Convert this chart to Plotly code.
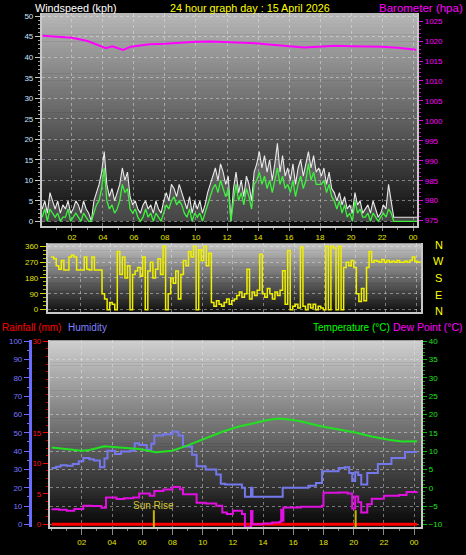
import plotly.graph_objects as go

W, H = 466, 555

# ---------------- data ----------------
# wind (kph), 10-minute samples starting 00:05
wind_minutes = list(range(5, 1456, 10))
wind_gust = [
    3, 5, 2, 7, 5, 3,
    5, 2, 4, 3, 5, 2,
    3, 5, 4, 2, 5, 3,
    2, 0, 5, 7, 9, 12,
    17, 9, 6, 8, 5, 7,
    9, 13, 10, 12, 6, 4,
    5, 3, 2, 4, 5, 3,
    4, 2, 5, 3, 2, 5,
    7, 5, 9, 8, 6, 9,
    7, 5, 3, 6, 2, 5,
    3, 5, 2, 4, 7, 9,
    11, 13, 10, 14, 12, 9,
    11, 0, 8, 12, 7, 10,
    6, 11, 9, 5, 12, 14,
    17, 13, 16, 12, 15, 10,
    14, 19, 12, 16, 11, 13,
    10, 14, 9, 13, 15, 11,
    14, 17, 13, 16, 12, 13,
    11, 13, 9, 12, 8, 7,
    5, 7, 4, 6, 3, 4,
    2, 7, 4, 5, 2, 3,
    4, 2, 5, 3, 1, 2,
    4, 3, 9, 5, 1, 1,
    1, 1, 1, 1, 1, 1,
    1, 1,
]
wind_avg = [
    1, 3, 0, 3, 2, 1,
    2, 0, 1, 1, 3, 0,
    1, 2, 1, 0, 2, 1,
    0, 0, 2, 4, 5, 8,
    13, 5, 3, 4, 2, 3,
    5, 9, 7, 8, 3, 2,
    3, 1, 0, 1, 3, 1,
    2, 0, 2, 1, 0, 2,
    4, 3, 5, 6, 4, 5,
    4, 2, 1, 3, 0, 2,
    1, 2, 0, 2, 4, 6,
    8, 9, 7, 10, 8, 6,
    8, 0, 5, 9, 5, 7,
    4, 8, 6, 3, 9, 10,
    12, 9, 11, 8, 10, 7,
    10, 13, 9, 11, 8, 9,
    7, 10, 6, 9, 11, 8,
    10, 14, 10, 12, 9, 9,
    9, 10, 7, 9, 6, 5,
    3, 5, 2, 4, 1, 2,
    0, 5, 2, 3, 1, 1,
    2, 0, 2, 1, 0, 1,
    2, 1, 3, 2, 0, 0,
    0, 0, 0, 0, 0, 0,
    0, 0,
]
wind_dir = [
    300, 290, 250, 230, 280, 225,
    225, 300, 310, 300, 225, 225,
    225, 300, 230, 225, 300, 225,
    225, 225, 90, 60, 0, 40,
    30, 0, 330, 200, 300, 180,
    250, 0, 200, 220, 240, 190,
    300, 0, 220, 270, 180, 230,
    290, 200, 360, 0, 90, 180,
    150, 220, 60, 200, 280, 250,
    330, 300, 360, 0, 340, 280,
    360, 250, 320, 40, 20, 50,
    30, 20, 40, 60, 30, 50,
    60, 80, 100, 70, 90, 230,
    60, 100, 80, 110, 315, 90,
    70, 120, 90, 60, 100, 80,
    110, 221, 30, 337, 0, 20,
    30, 10, 356, 20, 0, 30,
    10, 30, 0, 20, 10, 0,
    360, 0, 360, 350, 0, 360,
    0, 240, 270, 250, 280, 240,
    90, 47, 120, 50, 240, 330,
    270, 280, 275, 270, 285, 270,
    280, 270, 275, 270, 280, 270,
    270, 275, 270, 280, 300, 275,
    270, 275,
]
wind_hours = [m / 60 for m in wind_minutes]

baro_hours = [0.1, 1, 2, 3, 4, 4.2, 4.6, 5.3, 5.8, 7, 8, 9, 10, 11, 12, 13, 14, 15,
              16, 17, 18, 19, 20, 21, 22, 23, 24.2]
baro_hpa = [1021.3, 1021.1, 1020.8, 1020.0, 1018.6, 1018.2, 1018.7, 1017.8, 1018.6,
            1019.2, 1019.3, 1019.6, 1019.8, 1019.9, 1019.8, 1019.6, 1019.4, 1019.0,
            1018.7, 1018.4, 1018.6, 1018.8, 1018.7, 1018.6, 1018.6, 1018.3, 1017.8]

temp_hours = [0, 1, 2, 2.5, 3.5, 4.5, 5.8, 6.9, 8.0, 9.1, 10.2, 11.3, 12.4, 13.5, 14.3,
              15.0, 15.6, 16.4, 17.2, 17.9, 19.0, 20.1, 21.2, 22.3, 23.2, 24.2]
temp_c = [11.0, 10.6, 10.1, 10.3, 11.3, 11.0, 10.6, 9.7, 10.1, 11.7, 13.5, 15.3, 16.7,
          17.8, 18.5, 18.9, 18.7, 18.2, 17.4, 16.7, 15.9, 15.1, 14.0, 13.1, 12.6, 12.7]

hum_hours = [0.0, 0.3, 0.6, 1.0, 1.4, 1.8, 2.1, 2.5, 2.8, 3.2, 3.5, 3.7, 4.2, 4.6, 5.2,
             5.5, 5.8, 6.3, 6.6, 6.8, 7.4, 8.0, 8.4, 8.7, 9.3, 9.6, 10.2, 10.9, 11.2,
             11.5, 12.0, 12.6, 12.75, 12.8, 13.15, 13.2, 13.3, 15.2, 15.3, 16.5, 17.0,
             17.5, 17.9, 19.0, 19.4, 19.7, 19.9, 20.1, 20.3, 20.5, 20.9, 21.6, 22.5,
             23.2, 23.4, 24.2]
hum_pct = [30.8, 31.5, 32.3, 32.0, 33.0, 34.5, 36.2, 35.5, 34.8, 31.2, 36.0, 40.2, 38.4,
           39.8, 40.2, 44.3, 43.4, 40.7, 44.0, 48.5, 49.2, 50.6, 48.5, 42.5, 38.0, 31.7,
           29.9, 27.2, 22.2, 21.8, 21.8, 20.0, 20.0, 15.0, 15.0, 20.0, 15.0, 15.0, 20.0,
           20.0, 21.0, 22.5, 29.0, 30.8, 31.2, 28.0, 23.6, 28.4, 27.0, 21.8, 28.0, 33.0,
           36.2, 36.2, 39.5, 39.5]

dew_hours = [0, 0.5, 1.0, 1.5, 2.1, 2.6, 3.3, 3.6, 4.3, 4.8, 5.4, 5.8, 6.5, 6.8, 7.4,
             8.0, 8.5, 8.7, 9.3, 9.6, 10.2, 10.9, 11.3, 11.6, 12.0, 12.6, 12.75, 12.8,
             13.15, 13.2, 13.3, 14.0, 14.6, 15.1, 15.2, 15.3, 15.35, 16.5, 17.9, 18.0,
             19.0, 19.6, 19.9, 20.1, 20.3, 20.5, 20.9, 21.2, 22.0, 23.0, 23.5, 24.2]
dew_c = [-5.9, -6.0, -6.3, -5.8, -4.9, -5.0, -5.5, -2.7, -3.1, -2.9, -2.7, -1.6, -2.2,
         -0.9, -0.5, 0.2, -0.4, -1.8, -1.8, -4.1, -4.3, -4.9, -6.8, -7.2, -6.3, -7.2,
         -7.2, -10.8, -10.8, -6.4, -10.0, -9.8, -9.5, -9.3, -6.0, -9.0, -5.4, -5.2,
         -4.9, -1.4, -1.3, -1.6, -5.7, -2.4, -4.0, -6.8, -4.5, -3.0, -2.2, -2.0, -1.2,
         -1.1]

rain_hours = [0, 24.2]
rain_mm = [0, 0]

sun_hours = [6.77, 20.13]
sun_labels = ["Sun Rise", ""]

hour_ticks = [2, 4, 6, 8, 10, 12, 14, 16, 18, 20, 22, 24]
hour_tick_labels = ["02", "04", "06", "08", "10", "12", "14", "16", "18", "20", "22", "00"]
wind_ticks = [0, 5, 10, 15, 20, 25, 30, 35, 40, 45, 50]
baro_ticks = [975, 980, 985, 990, 995, 1000, 1005, 1010, 1015, 1020, 1025]
dir_ticks = [0, 90, 180, 270, 360]
compass_labels = ["N", "W", "S", "E", "N"]
rain_ticks = [0, 5, 10, 15, 30]
hum_ticks = [0, 10, 20, 30, 40, 50, 60, 70, 80, 90, 100]
temp_ticks = [-10, -5, 0, 5, 10, 15, 20, 25, 30, 35, 40]

# ---------------- helpers ----------------
def px(x):
    return x / W


def py(y):
    return 1 - y / H


def rng(v0, p0, v1, p1, top, bottom):
    k = (v1 - v0) / (p1 - p0)
    return [v0 + (bottom - p0) * k, v0 + (top - p0) * k]


def gradient(x0, x1, y0, y1, top, bottom, n=60):
    out = []
    for k in range(n):
        t = k / (n - 1)
        c = [round(top[j] + (bottom[j] - top[j]) * t) for j in range(3)]
        ya = y0 + (y1 - y0) * k / n
        yb = y0 + (y1 - y0) * (k + 1) / n + 0.6
        out.append(dict(type="rect", xref="paper", yref="paper",
                        x0=px(x0), x1=px(x1), y0=py(min(yb, y1)), y1=py(ya),
                        fillcolor=f"rgb({c[0]},{c[1]},{c[2]})",
                        line=dict(width=0), layer="below"))
    return out


FONT = "Liberation Sans"
GRID = "rgba(235,235,235,0.45)"
EDGE = "#c8c8c8"
XLAB = "#e6e600"
TS = 8

# panel geometry (pixels)
P1 = dict(l=42, r=418, t=10, b=225)
P2 = dict(l=48, r=422, t=243, b=312)
P3 = dict(l=50, r=422, t=341, b=530)

xr1 = rng(0, 41, 24, 414, P1["l"], P1["r"])
xr1 = [xr1[1], xr1[0]]
xr2 = rng(0, 50, 24, 417, P2["l"], P2["r"])
xr2 = [xr2[1], xr2[0]]
xr3 = rng(0, 51.7, 24, 415, P3["l"], P3["r"])
xr3 = [xr3[1], xr3[0]]

wr = rng(0, 220.7, 50, 13.3, P1["t"], P1["b"])
br = rng(975, 220, 1025, 18.3, P1["t"], P1["b"])
dr = rng(0, 310, 360, 246, P2["t"], P2["b"])
rr = rng(0, 527, 30, 342, P3["t"], P3["b"])
hr = rng(0, 527, 100, 342, P3["t"], P3["b"])
tr = rng(-10, 527, 40, 342, P3["t"], P3["b"])

fig = go.Figure()

# panel 1
fig.add_trace(go.Scatter(x=wind_hours, y=wind_gust, mode="lines",
                         fill="tozeroy", fillcolor="rgba(200,200,200,0.30)",
                         line=dict(color="#e8e8e8", width=1.1), xaxis="x", yaxis="y"))
fig.add_trace(go.Scatter(x=wind_hours, y=wind_avg, mode="lines",
                         line=dict(color="#3cf03c", width=1.3), xaxis="x", yaxis="y"))
fig.add_trace(go.Scatter(x=baro_hours, y=baro_hpa, mode="lines",
                         line=dict(color="#ff00ff", width=2), xaxis="x", yaxis="y2"))
# panel 2
fig.add_trace(go.Scatter(x=wind_hours, y=wind_dir, mode="lines", line_shape="hv",
                         line=dict(color="#f0f000", width=1.5), xaxis="x2", yaxis="y3"))
# panel 3
fig.add_trace(go.Scatter(x=rain_hours, y=rain_mm, mode="lines",
                         line=dict(color="#ff0000", width=3), xaxis="x3", yaxis="y4"))
fig.add_trace(go.Scatter(x=hum_hours, y=hum_pct, mode="lines", line_shape="hv",
                         line=dict(color="#7478ec", width=2), xaxis="x3", yaxis="y5"))
for t, lab in zip(sun_hours, sun_labels):
    fig.add_trace(go.Scatter(x=[t, t], y=[hr[0], 7.7], mode="lines",
                             line=dict(color="#c8b400", width=2), xaxis="x3", yaxis="y5"))
    if lab:
        fig.add_annotation(x=t, y=10.3, xref="x3", yref="y5", text=lab, showarrow=False,
                           font=dict(family=FONT, size=10, color="#d4c830"))
fig.add_trace(go.Scatter(x=temp_hours, y=temp_c, mode="lines",
                         line=dict(color="#22e022", width=2), xaxis="x3", yaxis="y6"))
fig.add_trace(go.Scatter(x=dew_hours, y=dew_c, mode="lines", line_shape="hv",
                         line=dict(color="#e010e0", width=2), xaxis="x3", yaxis="y6"))

shapes = []
shapes += gradient(P1["l"], P1["r"], P1["t"], P1["b"], (182, 182, 182), (12, 12, 12))
shapes += gradient(P2["l"], P2["r"], P2["t"], P2["b"], (196, 196, 196), (18, 18, 18))
shapes += gradient(P3["l"], P3["r"], P3["t"], P3["b"], (206, 206, 206), (8, 8, 8))


def tf(color):
    return dict(family=FONT, size=TS, color=color)


common_x = dict(tickmode="array", tickvals=hour_ticks, ticktext=hour_tick_labels,
                showgrid=True, gridcolor=GRID, griddash="dot", gridwidth=1,
                zeroline=False, showline=True, linecolor=EDGE, linewidth=2,
                ticks="outside", tickcolor="#8a8a8a",
                minor=dict(tickvals=list(range(0, 25)), ticks="outside", ticklen=2,
                           tickcolor="#8a8a8a", showgrid=False))

fig.update_layout(
    width=W, height=H, margin=dict(l=0, r=0, t=0, b=0),
    paper_bgcolor="black", plot_bgcolor="rgba(0,0,0,0)",
    showlegend=False, shapes=shapes, hovermode=False,
    font=dict(family=FONT, size=TS),
    xaxis=dict(domain=[px(P1["l"]), px(P1["r"])], anchor="y", range=xr1,
               tickfont=tf(XLAB), ticklen=3, **common_x),
    yaxis=dict(domain=[py(P1["b"]), py(P1["t"])], anchor="x", range=wr,
               tickmode="array", tickvals=wind_ticks, tickfont=tf("#cfe4ff"),
               ticks="outside", ticklen=5, tickcolor=EDGE,
               minor=dict(tickvals=list(range(0, 51)), ticks="outside", ticklen=2,
                          tickcolor="#a0a0a0", showgrid=False),
               showline=True, linecolor=EDGE, linewidth=2,
               showgrid=True, gridcolor=GRID, griddash="dot", zeroline=False),
    yaxis2=dict(overlaying="y", side="right", anchor="x", range=br,
                tickmode="array", tickvals=baro_ticks, tickfont=tf("#ff00ff"),
                ticks="outside", ticklen=4, tickcolor="#e000e0",
                minor=dict(tickvals=list(range(975, 1026)), ticks="outside", ticklen=2,
                           tickcolor="#c000c0", showgrid=False),
                showline=True, linecolor=EDGE, linewidth=2,
                showgrid=False, zeroline=False),
    xaxis2=dict(domain=[px(P2["l"]), px(P2["r"])], anchor="y3", range=xr2,
                tickmode="array", tickvals=hour_ticks, showticklabels=False,
                ticks="", showgrid=True, gridcolor=GRID, griddash="dot",
                zeroline=False, showline=True, linecolor=EDGE, linewidth=2),
    yaxis3=dict(domain=[py(P2["b"]), py(P2["t"])], anchor="x2", range=dr,
                tickmode="array", tickvals=dir_ticks, tickfont=tf("#e0e000"),
                ticks="outside", ticklen=6, tickcolor="#d8d800",
                minor=dict(tickvals=[i * 22.5 for i in range(17)], ticks="outside",
                           ticklen=3, tickcolor="#b8b800", showgrid=False),
                showline=True, linecolor=EDGE, linewidth=2, mirror=True,
                showgrid=True, gridcolor=GRID, griddash="dot", zeroline=False),
    xaxis3=dict(domain=[px(P3["l"]), px(P3["r"])], anchor="y4", range=xr3,
                tickfont=tf(XLAB), ticklen=6, **common_x),
    yaxis4=dict(domain=[py(P3["b"]), py(P3["t"])], anchor="x3", range=rr,
                tickmode="array", tickvals=rain_ticks, tickfont=tf("#ff1010"),
                ticks="outside", ticklen=5, tickcolor="#ff0000",
                minor=dict(tickvals=[i * 1.25 for i in range(25)], ticks="outside",
                           ticklen=2, tickcolor="#d00000", showgrid=False),
                showline=True, linecolor=EDGE, linewidth=2,
                showgrid=False, zeroline=False),
    yaxis5=dict(overlaying="y4", anchor="free", position=px(30), side="left",
                range=hr, tickmode="array", tickvals=hum_ticks,
                tickfont=tf("#7878ff"), ticks="outside", ticklen=5,
                tickcolor="#7070ff",
                minor=dict(tickvals=list(range(0, 101, 5)), ticks="outside",
                           ticklen=2, tickcolor="#7070ff", showgrid=False),
                showline=True, linecolor="#6a6aff", linewidth=3,
                showgrid=True, gridcolor=GRID, griddash="dot", zeroline=False),
    yaxis6=dict(overlaying="y4", side="right", anchor="x3", range=tr,
                tickmode="array", tickvals=temp_ticks, tickfont=tf("#20e020"),
                ticks="outside", ticklen=4, tickcolor="#00c000",
                minor=dict(tickvals=list(range(-10, 41)), ticks="outside",
                           ticklen=2, tickcolor="#00a000", showgrid=False),
                showline=True, linecolor=EDGE, linewidth=2,
                showgrid=False, zeroline=False),
)


# titles
def label(text, x, y, color, size, anchor="left"):
    fig.add_annotation(text=text, x=px(x), y=py(y), xref="paper", yref="paper",
                       xanchor=anchor, yanchor="middle", showarrow=False,
                       font=dict(family=FONT, size=size, color=color))


label("Windspeed (kph)", 33, 5, "#ffffff", 10.8)
label("24 hour graph day : 15 April 2026", 250.5, 5, "#ffff00", 10.8, "center")
label("Barometer (hpa)", 466, 5, "#ff00ff", 11.5, "right")
label("Rainfall (mm)", 0, 328, "#ff0000", 10)
label("Humidity", 66, 328, "#8080ff", 10)
label("Temperature (°C)", 312, 328, "#00ff00", 10)
label("Dew Point (°C)", 466, 328, "#ff00ff", 10.5, "right")

for lab, yy in zip(compass_labels, [245, 261, 278, 295, 311]):
    label(lab, 439.5, yy, "#ffff00", 11, "center")

fig.write_html(
    "out.html",
    config={"displayModeBar": False, "staticPlot": True},
    post_script="document.body.style.margin='0px';document.body.style.padding='0px';"
                "document.body.style.background='black';",
)
